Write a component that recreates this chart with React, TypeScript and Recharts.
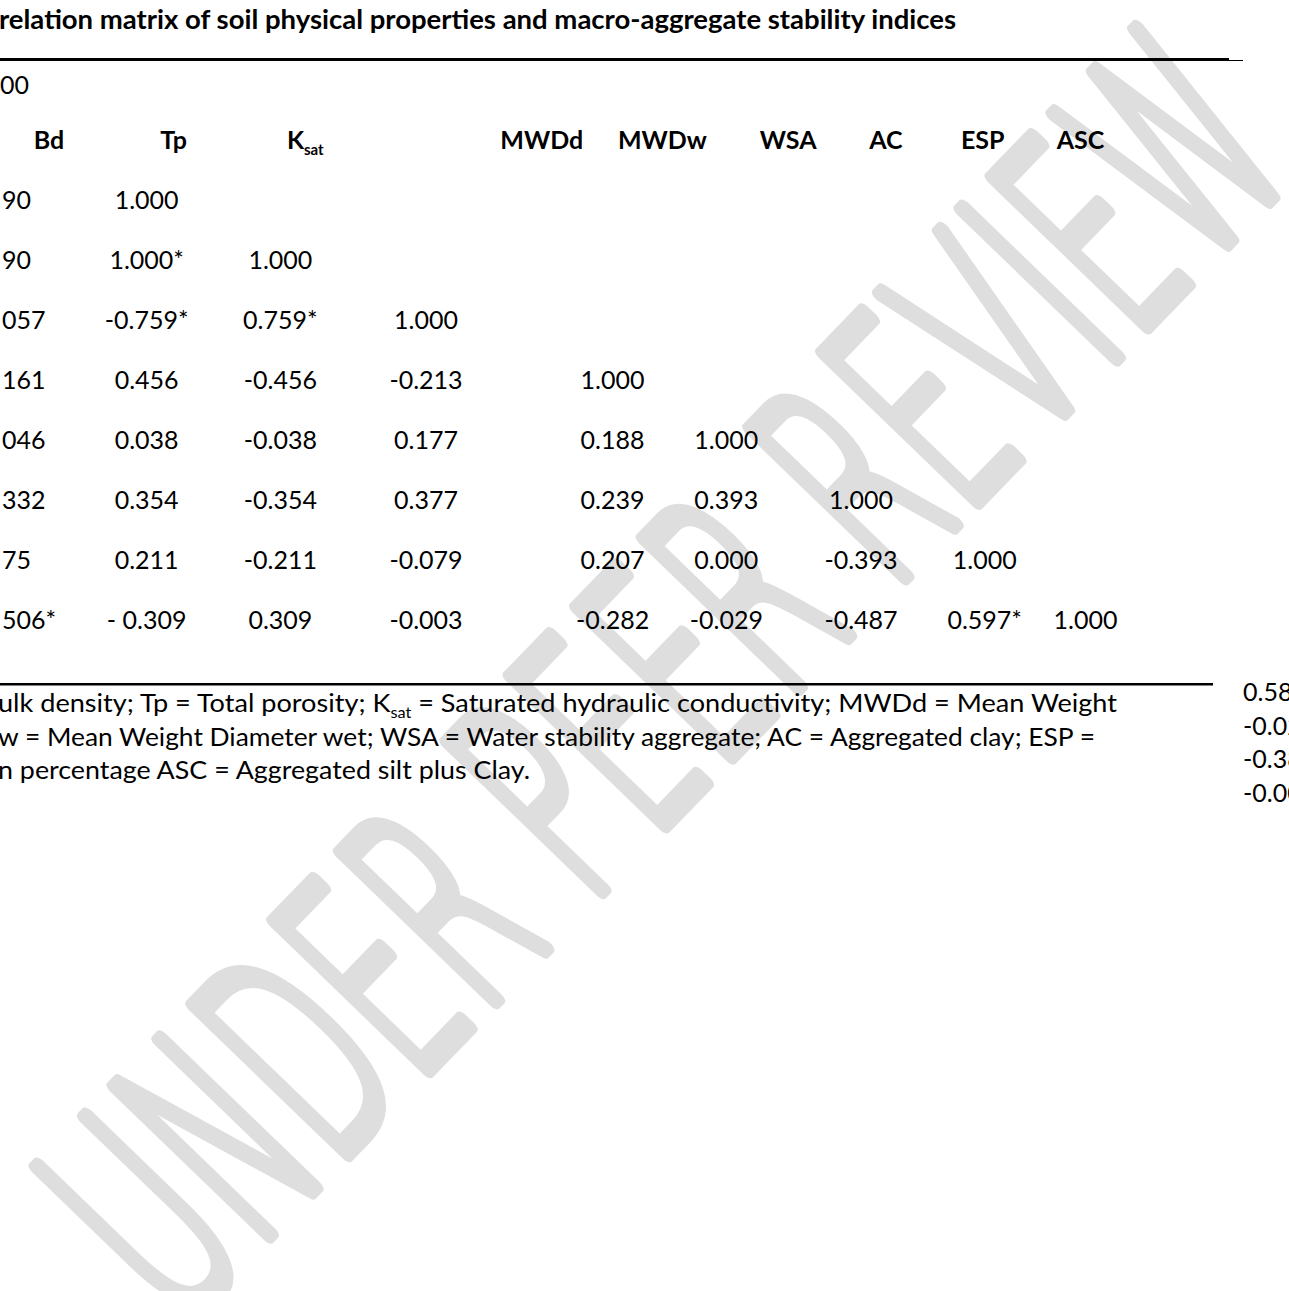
import { Customized, Scatter, ScatterChart, XAxis, YAxis } from 'recharts'

// page size of the reference
const W = 1289
const H = 1291

// header labels (bold row)
const headers = ['Bd', 'Tp', 'K', 'MWDd', 'MWDw', 'WSA', 'AC', 'ESP', 'ASC']

// first column is cut off at the left edge of the page, only these fragments are visible
const firstColumn = ['90', '90', '057', '161', '046', '332', '75', '506*']
const topFragment = '00'

// lower-triangular correlation values, one list per row (columns 1..8)
const matrixRows = [
  ['1.000'],
  ['1.000*', '1.000'],
  ['-0.759*', '0.759*', '1.000'],
  ['0.456', '-0.456', '-0.213', '1.000'],
  ['0.038', '-0.038', '0.177', '0.188', '1.000'],
  ['0.354', '-0.354', '0.377', '0.239', '0.393', '1.000'],
  ['0.211', '-0.211', '-0.079', '0.207', '0.000', '-0.393', '1.000'],
  ['- 0.309', '0.309', '-0.003', '-0.282', '-0.029', '-0.487', '0.597*', '1.000'],
]

// values of the next table, cut at the right edge
const sideValues = ['0.58', '-0.02', '-0.38', '-0.00']

const title = 'relation matrix of soil physical properties and macro-aggregate stability indices'

// layout (pixel centres along the x axis, row index along y)
const colCenter = [144, 278, 424, 611, 725, 860, 984, 1085]
const headerCenter = [46, 171, 303, 540, 661, 787, 885, 982, 1080]
const ROW0 = 200
const ROW_STEP = 60

const FONT = 'Lato, "Open Sans", sans-serif'
const SIZE = 25

type Cell = { x: number; y: number; label: string; anchor: string; bold?: boolean; sub?: string }

const cells: Cell[] = []
matrixRows.forEach((row, i) => {
  row.forEach((v, j) => cells.push({ x: colCenter[j], y: i, label: v, anchor: 'middle' }))
})
firstColumn.forEach((v, i) => cells.push({ x: -1, y: i, label: v, anchor: 'start' }))
cells.push({ x: -3, y: (85 - ROW0) / ROW_STEP, label: topFragment, anchor: 'start' })

const headerCells: Cell[] = headers.map((h, j) => ({
  x: headerCenter[j],
  y: -1,
  label: h,
  anchor: 'middle',
  bold: true,
  sub: h === 'K' ? 'sat' : undefined,
}))

const renderCell = (props: any) => {
  const { cx, cy, payload } = props
  return (
    <text
      x={cx}
      y={cy}
      dy="0.36em"
      textAnchor={payload.anchor}
      fontFamily={FONT}
      fontSize={SIZE}
      fontWeight={payload.bold ? 700 : 400}
      fill="#000"
    >
      {payload.label}
      {payload.sub ? (
        <tspan fontSize={15} dy={6}>
          {payload.sub}
        </tspan>
      ) : null}
    </text>
  )
}

const Watermark = () => (
  <g transform="translate(664,674) rotate(-46) scale(0.515,1)">
    <text
      x={0}
      y={0}
      dy="0.36em"
      textAnchor="middle"
      fontFamily='"DejaVu Sans", sans-serif'
      fontWeight={200}
      fontSize={294}
      fill="#dedede"
      stroke="#dedede"
      strokeWidth={13}
      strokeLinejoin="round"
      strokeLinecap="round"
      vectorEffect="non-scaling-stroke"
    >
      UNDER PEER REVIEW
    </text>
  </g>
)

const Decor = () => (
  <g fontFamily={FONT} fontSize={SIZE} fill="#000">
    <text x={-1} y={20} dy="0.36em" fontSize={26} fontWeight={700} textLength={957} lengthAdjust="spacingAndGlyphs">
      {title}
    </text>
    <rect x={0} y={58} width={1229} height={3} fill="#000" />
    <rect x={1229} y={60} width={14} height={1} fill="#000" />
    <rect x={0} y={683} width={1213} height={2.5} fill="#000" />
    <text x={-2} y={703} dy="0.36em" textLength={1119} lengthAdjust="spacingAndGlyphs">
      ulk density; Tp = Total porosity; K
      <tspan fontSize={15} dy={6}>
        sat
      </tspan>
      <tspan dy={-6}> = Saturated hydraulic conductivity; MWDd = Mean Weight</tspan>
    </text>
    <text x={-2} y={737} dy="0.36em" textLength={1097} lengthAdjust="spacingAndGlyphs">
      w = Mean Weight Diameter wet; WSA = Water stability aggregate; AC = Aggregated clay; ESP =
    </text>
    <text x={-2} y={770} dy="0.36em" textLength={532} lengthAdjust="spacingAndGlyphs">
      n percentage ASC = Aggregated silt plus Clay.
    </text>
    {sideValues.map((v, i) => (
      <text key={v} x={1243} y={692 + i * 33.5} dy="0.36em">
        {v}
      </text>
    ))}
  </g>
)

export default function App() {
  return (
    <div style={{ position: 'absolute', left: 0, top: 0, width: W, height: H, background: '#fff' }}>
      <ScatterChart width={W} height={H} margin={{ top: 0, right: 0, bottom: 0, left: 0 }}>
        <XAxis type="number" dataKey="x" domain={[0, W]} hide />
        <YAxis
          type="number"
          dataKey="y"
          domain={[-ROW0 / ROW_STEP, (H - ROW0) / ROW_STEP]}
          reversed
          hide
        />
        <Customized component={Watermark} />
        <Customized component={Decor} />
        <Scatter data={headerCells} shape={renderCell} isAnimationActive={false} />
        <Scatter data={cells} shape={renderCell} isAnimationActive={false} />
      </ScatterChart>
    </div>
  )
}
